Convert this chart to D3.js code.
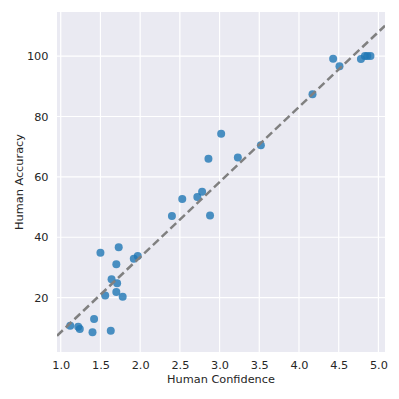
<!DOCTYPE html>
<html lang="en">
<head>
    <meta charset="UTF-8">
    <title>Human Confidence vs Accuracy</title>
    <script src="https://d3js.org/d3.v7.min.js"></script>
    <style>
        body { margin: 0; background: #fff; }
        text { font-family: "DejaVu Sans", sans-serif; fill: #262626; }
    </style>
</head>
<body>
    <div id="chart"></div>
    <script>
        // data
        const confidence = [1.50, 1.73, 1.70, 1.92, 1.97, 1.64, 1.71, 1.70, 1.56, 1.78,
                            1.42, 1.12, 1.22, 1.24, 1.40, 1.63,
                            3.02, 3.52, 2.86, 3.23, 2.78, 2.72, 2.53, 2.40, 2.88,
                            4.17, 4.43, 4.51, 4.78, 4.83, 4.86, 4.90];
        const accuracy = [34.9, 36.7, 31.1, 32.9, 33.8, 26.1, 24.8, 21.9, 20.7, 20.3,
                          12.9, 10.7, 10.4, 9.6, 8.5, 9.0,
                          74.3, 70.5, 66.0, 66.4, 55.1, 53.3, 52.7, 47.0, 47.2,
                          87.4, 99.1, 96.6, 99.0, 100, 100, 100];
        const fitLine = { slope: 24.86, intercept: -16.3 };
        const xTicks = [1.0, 1.5, 2.0, 2.5, 3.0, 3.5, 4.0, 4.5, 5.0];
        const yTicks = [20, 40, 60, 80, 100];

        const width = 399, height = 399;
        const margin = { top: 12, right: 14, bottom: 47, left: 57 };

        const svg = d3.select("#chart").append("svg")
            .attr("width", width)
            .attr("height", height);

        const x = d3.scaleLinear().domain([0.953, 5.083])
            .range([margin.left, width - margin.right]);
        const y = d3.scaleLinear().domain([2, 114.6])
            .range([height - margin.bottom, margin.top]);

        svg.append("defs").append("clipPath").attr("id", "clip")
            .append("rect")
            .attr("x", margin.left).attr("y", margin.top)
            .attr("width", width - margin.left - margin.right)
            .attr("height", height - margin.top - margin.bottom);

        svg.append("rect")
            .attr("x", margin.left).attr("y", margin.top)
            .attr("width", width - margin.left - margin.right)
            .attr("height", height - margin.top - margin.bottom)
            .attr("fill", "#eaeaf2");

        // grid
        svg.append("g").selectAll("line").data(xTicks).enter().append("line")
            .attr("x1", d => x(d)).attr("x2", d => x(d))
            .attr("y1", margin.top).attr("y2", height - margin.bottom)
            .attr("stroke", "#fff").attr("stroke-width", 1.2);
        svg.append("g").selectAll("line").data(yTicks).enter().append("line")
            .attr("y1", d => y(d)).attr("y2", d => y(d))
            .attr("x1", margin.left).attr("x2", width - margin.right)
            .attr("stroke", "#fff").attr("stroke-width", 1.2);

        // axes (labels only, no tick marks)
        const xAxis = svg.append("g")
            .attr("transform", `translate(0,${height - margin.bottom})`)
            .call(d3.axisBottom(x).tickValues(xTicks).tickFormat(d3.format(".1f")).tickSize(0).tickPadding(9));
        const yAxis = svg.append("g")
            .attr("transform", `translate(${margin.left},0)`)
            .call(d3.axisLeft(y).tickValues(yTicks).tickSize(0).tickPadding(8.5));
        [xAxis, yAxis].forEach(a => {
            a.select(".domain").remove();
            a.selectAll("text").style("font-size", "11.3px").attr("fill", "#262626");
        });

        const pts = confidence.map((c, i) => ({ c: c, a: accuracy[i] }));
        const plot = svg.append("g").attr("clip-path", "url(#clip)");

        plot.selectAll("circle").data(pts).enter().append("circle")
            .attr("cx", d => x(d.c))
            .attr("cy", d => y(d.a))
            .attr("r", 4)
            .attr("fill", "#1f77b4")
            .attr("fill-opacity", 0.8);

        const xs = x.domain();
        plot.append("line")
            .attr("x1", x(xs[0])).attr("y1", y(fitLine.slope * xs[0] + fitLine.intercept))
            .attr("x2", x(xs[1])).attr("y2", y(fitLine.slope * xs[1] + fitLine.intercept))
            .attr("stroke", "#808080")
            .attr("stroke-width", 2.5)
            .attr("stroke-dasharray", "8,4");

        svg.append("text")
            .attr("x", (margin.left + width - margin.right) / 2)
            .attr("y", 383)
            .attr("text-anchor", "middle")
            .style("font-size", "11.3px")
            .text("Human Confidence");

        svg.append("text")
            .attr("transform", `translate(23,${(margin.top + height - margin.bottom) / 2}) rotate(-90)`)
            .attr("text-anchor", "middle")
            .style("font-size", "11.3px")
            .text("Human Accuracy");
    </script>
</body>
</html>
